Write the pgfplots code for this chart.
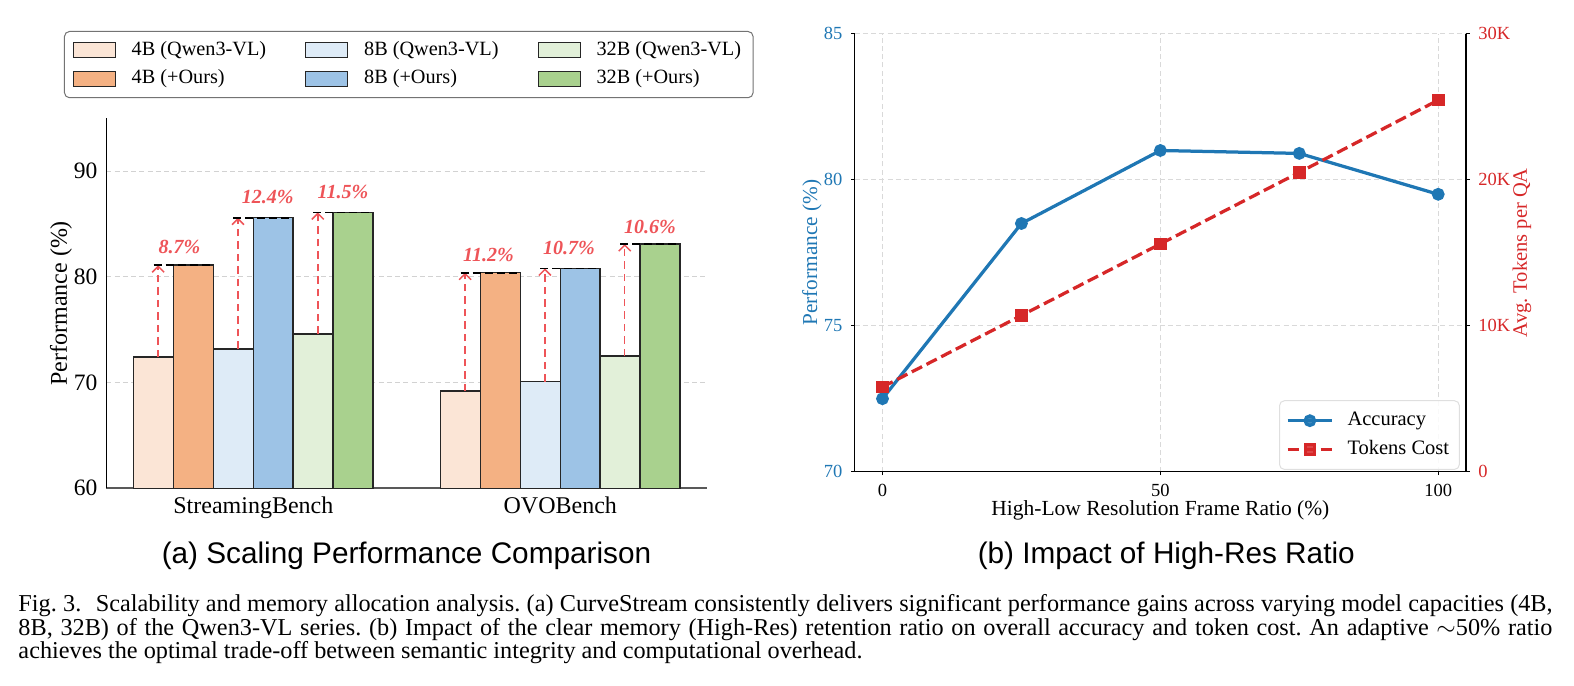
\documentclass[border=0pt]{standalone}
\usepackage{fontspec}
\setmainfont{Liberation Serif}
\newfontfamily\arialfont{Liberation Sans}
\usepackage{pgfplots}
\pgfplotsset{compat=1.18}
\usetikzlibrary{arrows.meta}
\definecolor{c4a}{HTML}{FBE5D6}
\definecolor{c4b}{HTML}{F4B183}
\definecolor{c8a}{HTML}{DEEBF7}
\definecolor{c8b}{HTML}{9DC3E6}
\definecolor{c32a}{HTML}{E2F0D9}
\definecolor{c32b}{HTML}{A9D18E}
\definecolor{annred}{RGB}{238,84,88}
\definecolor{tabblue}{HTML}{1F77B4}
\definecolor{tabred}{HTML}{D62728}
\frenchspacing
\pgfplotsset{
  barleg/.style={legend image code/.code={\draw[sharp corners, fill=#1, draw=black!85, line width=0.5pt] (0pt,-3pt) rectangle (16.8pt,3pt);}},
}
\begin{document}
\begin{tikzpicture}
\path[use as bounding box] (0,0) rectangle (629.6pt,-274.4pt);
\tikzset{
  gainarrow/.style={annred, line width=0.6pt, dash pattern=on 3pt off 2pt, -{Straight Barb[length=2.4pt,width=4.8pt]}},
  topline/.style={black, line width=0.7pt, dash pattern=on 3.2pt off 1.6pt},
  gainlabel/.style={annred, font=\fontsize{8}{9}\selectfont\bfseries\itshape, inner sep=0pt},
}
% ---------------- left panel ----------------
\begin{axis}[
  at={(42.52pt,-195.32pt)}, anchor=south west,
  scale only axis, width=240.4pt, height=148pt,
  xmin=-0.479, xmax=1.479, ymin=60, ymax=95,
  xtick={0,1}, xticklabels={StreamingBench,OVOBench},
  ytick={60,70,80,90},
  axis x line*=bottom, axis y line*=left,
  x axis line style={draw=black!65, line width=0.8pt, -},
  y axis line style={draw=black, line width=0.5pt, -},
  major tick length=0pt,
  ymajorgrids, grid style={gray!35, line width=0.4pt, dash pattern=on 2pt off 1.3pt},
  /pgf/number format/assume math mode=true,
  yticklabel style={font=\fontsize{9.4}{10}\selectfont},
  xticklabel style={font=\fontsize{9.6}{10}\selectfont},
  ylabel={Performance (\%)},
  every axis y label/.style={at={(axis description cs:-0.0754,0.5)}, rotate=90, anchor=center, font=\fontsize{9.6}{10}\selectfont},
  legend columns=3,
  legend cell align=left,
  legend style={at={(axis description cs:-0.0704,1.236)}, anchor=north west,
    draw=black!55, rounded corners=2pt, font=\fontsize{8.1}{9}\selectfont,
    inner xsep=3.3pt, inner ysep=2pt, row sep=0.5pt,
    nodes={inner sep=1.5pt, text height=6pt, text depth=2pt},
    /tikz/every odd column/.append style={column sep=4.8pt},
    /tikz/every even column/.append style={column sep=14.1pt}},
]
\addplot[ybar, bar width=0.13, bar shift=0pt, fill=c4a, draw=black!85, line width=0.6pt, barleg=c4a] coordinates {(-0.325,72.4) (0.675,69.2)};
\addlegendentry{4B (Qwen3-VL)}
\addplot[ybar, bar width=0.13, bar shift=0pt, fill=c8a, draw=black!85, line width=0.6pt, barleg=c8a] coordinates {(-0.065,73.2) (0.935,70.1)};
\addlegendentry{8B (Qwen3-VL)}
\addplot[ybar, bar width=0.13, bar shift=0pt, fill=c32a, draw=black!85, line width=0.6pt, barleg=c32a] coordinates {(0.195,74.6) (1.195,72.5)};
\addlegendentry{32B (Qwen3-VL)}
\addplot[ybar, bar width=0.13, bar shift=0pt, fill=c4b, draw=black!85, line width=0.6pt, barleg=c4b] coordinates {(-0.195,81.1) (0.805,80.4)};
\addlegendentry{4B (+Ours)}
\addplot[ybar, bar width=0.13, bar shift=0pt, fill=c8b, draw=black!85, line width=0.6pt, barleg=c8b] coordinates {(0.065,85.6) (1.065,80.8)};
\addlegendentry{8B (+Ours)}
\addplot[ybar, bar width=0.13, bar shift=0pt, fill=c32b, draw=black!85, line width=0.6pt, barleg=c32b] coordinates {(0.325,86.1) (1.325,83.1)};
\addlegendentry{32B (+Ours)}
% gains
\draw[gainarrow] (axis cs:-0.310,72.4) -- (axis cs:-0.310,81.1);
\draw[topline] (axis cs:-0.325,81.1) -- (axis cs:-0.130,81.1);
\node[gainlabel] at (axis cs:-0.241,82.86) {8.7\%};
\draw[gainarrow] (axis cs:-0.050,73.2) -- (axis cs:-0.050,85.6);
\draw[topline] (axis cs:-0.065,85.6) -- (axis cs:0.130,85.6);
\node[gainlabel] at (axis cs:0.047,87.59) {12.4\%};
\draw[gainarrow] (axis cs:0.210,74.6) -- (axis cs:0.210,86.1);
\draw[topline] (axis cs:0.195,86.1) -- (axis cs:0.390,86.1);
\node[gainlabel] at (axis cs:0.292,88.06) {11.5\%};
\draw[gainarrow] (axis cs:0.690,69.2) -- (axis cs:0.690,80.4);
\draw[topline] (axis cs:0.675,80.4) -- (axis cs:0.870,80.4);
\node[gainlabel] at (axis cs:0.766,82.07) {11.2\%};
\draw[gainarrow] (axis cs:0.950,70.1) -- (axis cs:0.950,80.8);
\draw[topline] (axis cs:0.935,80.8) -- (axis cs:1.130,80.8);
\node[gainlabel] at (axis cs:1.028,82.71) {10.7\%};
\draw[gainarrow] (axis cs:1.210,72.5) -- (axis cs:1.210,83.1);
\draw[topline] (axis cs:1.195,83.1) -- (axis cs:1.390,83.1);
\node[gainlabel] at (axis cs:1.292,84.75) {10.6\%};
\end{axis}
% ---------------- right panel ----------------
\begin{axis}[
  at={(341.88pt,-188.68pt)}, anchor=south west,
  scale only axis, width=244.52pt, height=175.2pt,
  xmin=-5, xmax=105, ymin=70, ymax=85,
  xtick={0,50,100}, ytick={70,75,80,85},
  axis x line*=bottom, axis y line*=left,
  axis line style={-, line width=0.6pt},
  tick align=outside, major tick length=1.4pt,
  tick style={black, line width=0.5pt},
  grid=major, grid style={gray!30, line width=0.4pt, dash pattern=on 2pt off 1.3pt},
  /pgf/number format/assume math mode=true,
  tick label style={font=\fontsize{7.4}{8}\selectfont},
  yticklabel style={text=tabblue},
  xlabel={High-Low Resolution Frame Ratio (\%)},
  every axis x label/.style={at={(axis description cs:0.5,-0.0875)}, anchor=center, font=\fontsize{8.6}{10}\selectfont},
  ylabel={Performance (\%)},
  every axis y label/.style={at={(axis description cs:-0.070,0.5)}, rotate=90, anchor=center, text=tabblue, font=\fontsize{8.5}{10}\selectfont},
]
\addplot[tabblue, line width=1.3pt, mark=*, mark size=1.9pt] coordinates {(0,72.5) (25,78.5) (50,81.0) (75,80.9) (100,79.5)};
\end{axis}
\begin{axis}[
  at={(341.88pt,-188.68pt)}, anchor=south west,
  scale only axis, width=244.52pt, height=175.2pt,
  xmin=-5, xmax=105, ymin=0, ymax=30000,
  axis x line=none, axis y line*=right,
  axis line style={-, line width=0.6pt},
  tick align=outside, major tick length=1.4pt,
  tick style={black, line width=0.5pt},
  scaled y ticks=false,
  ytick={0,10000,20000,30000}, yticklabels={0,10K,20K,30K},
  /pgf/number format/assume math mode=true,
  tick label style={font=\fontsize{7.4}{8}\selectfont},
  yticklabel style={text=tabred},
  ylabel={Avg. Tokens per QA},
  every axis y label/.style={at={(axis description cs:1.0916,0.5)}, rotate=90, anchor=center, text=tabred, font=\fontsize{8.2}{10}\selectfont},
  legend cell align=left,
  legend image code/.code={\draw[mark repeat=2,mark phase=2,#1] plot coordinates {(0pt,0pt) (8.9pt,0pt) (17.8pt,0pt)};},
  legend style={at={(axis description cs:0.990,0.004)}, anchor=south east,
    draw=gray!25, fill=white, fill opacity=0.85, text opacity=1, rounded corners=2pt,
    font=\fontsize{8.2}{9}\selectfont, inner xsep=2.6pt, inner ysep=2.5pt, row sep=0.5pt,
    nodes={inner sep=1.5pt, text height=6pt, text depth=2pt},
    /tikz/every odd column/.append style={column sep=4pt}},
]
\addlegendimage{tabblue, line width=1.3pt, mark=*, mark size=1.9pt}
\addlegendentry{Accuracy}
\addplot[tabred, line width=1.3pt, dash pattern=on 4.6pt off 2pt, mark=square*, mark size=1.9pt, mark options={solid}] coordinates {(0,5800) (25,10700) (50,15600) (75,20500) (100,25450)};
\addlegendentry{Tokens Cost}
\end{axis}
% ---------------- sub-captions and caption ----------------
\node[font=\arialfont\fontsize{11.9}{13}\selectfont, inner sep=0pt] at (162.6pt,-222.4pt) {(a) Scaling Performance Comparison};
\node[font=\arialfont\fontsize{11.9}{13}\selectfont, inner sep=0pt] at (466.5pt,-222.4pt) {(b) Impact of High-Res Ratio};
\node[anchor=base west, inner sep=0pt, font=\fontsize{9.7}{9.3}\selectfont] at (7.2pt,-263.4pt)
  {\vbox{\baselineskip=9.3pt \lineskiplimit=-\maxdimen
   \hbox to 613.6pt{Fig. 3.\hspace{0.6em}Scalability and memory allocation analysis. (a) CurveStream consistently delivers significant performance gains across varying model capacities (4B,}
   \hbox to 613.6pt{8B, 32B) of the Qwen3-VL series. (b) Impact of the clear memory (High-Res) retention ratio on overall accuracy and token cost. An adaptive $\sim$50\% ratio}
   \hbox{achieves the optimal trade-off between semantic integrity and computational overhead.}}};
\end{tikzpicture}
\end{document}
